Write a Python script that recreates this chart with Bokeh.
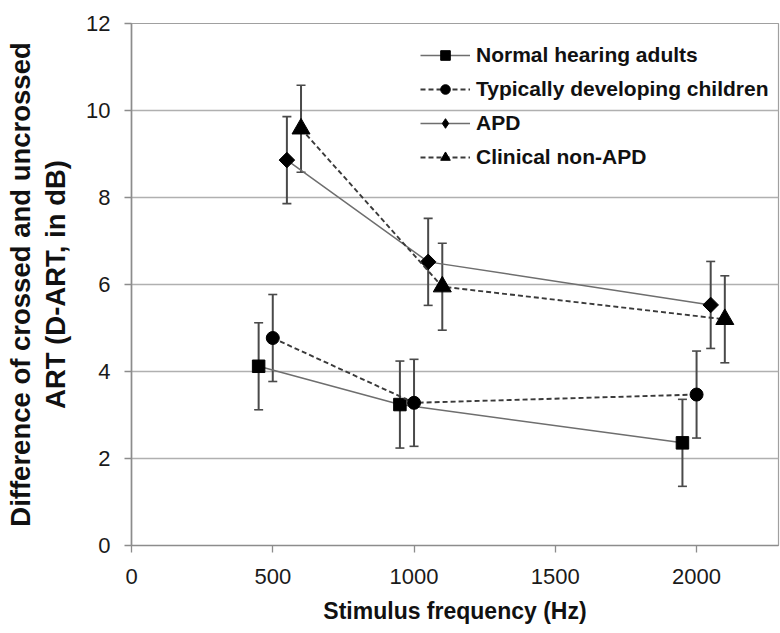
import math
from bokeh.plotting import figure
from bokeh.models import ColumnDataSource, Whisker, TeeHead, Legend, LegendItem, FixedTicker
from bokeh.embed import file_html
from bokeh.resources import INLINE

# ---- data ----
series_names = ["Normal hearing adults", "Typically developing children", "APD", "Clinical non-APD"]
adults_x = [450, 950, 1950]
adults_y = [4.12, 3.24, 2.36]
adults_err = [1.0, 1.0, 1.0]
children_x = [500, 1000, 2000]
children_y = [4.77, 3.28, 3.47]
children_err = [1.0, 1.0, 1.0]
apd_x = [550, 1050, 2050]
apd_y = [8.86, 6.52, 5.53]
apd_err = [1.0, 1.0, 1.0]
nonapd_x = [600, 1100, 2100]
nonapd_y = [9.58, 5.95, 5.20]
nonapd_err = [1.0, 1.0, 1.0]
x_ticks = [0, 500, 1000, 1500, 2000]
y_ticks = [0, 2, 4, 6, 8, 10, 12]

FONT = "Liberation Sans"

p = figure(width=780, height=633, output_backend="svg", toolbar_location=None,
           x_range=(0, 2290), y_range=(0, 12),
           min_border_left=131, min_border_top=23, min_border_right=2, min_border_bottom=88)
p.background_fill_color = "white"
p.outline_line_color = "#a0a0a0"
p.outline_line_width = 1.2

p.xgrid.grid_line_color = None
p.ygrid.grid_line_color = "#b0b0b0"
p.ygrid.grid_line_width = 1.6
p.xaxis.ticker = FixedTicker(ticks=x_ticks)
p.yaxis.ticker = FixedTicker(ticks=y_ticks)
for ax in (p.xaxis[0], p.yaxis[0]):
    ax.axis_line_color = "#8c8c8c"
    ax.axis_line_width = 1.6
    ax.major_tick_line_color = "#8c8c8c"
    ax.major_tick_line_width = 1.3
    ax.major_tick_out = 7
    ax.major_tick_in = 0
    ax.minor_tick_line_color = None
    ax.major_label_text_font = FONT
    ax.major_label_text_font_size = "22px"
    ax.major_label_text_color = "#1a1a1a"
    ax.axis_label_text_font = FONT
    ax.axis_label_text_font_style = "bold"
    ax.axis_label_text_color = "#111111"

p.xaxis.axis_label = "Stimulus frequency (Hz)"
p.xaxis.axis_label_text_font_size = "23px"
p.xaxis.major_label_standoff = 16
p.xaxis.axis_label_standoff = 11
p.yaxis.axis_label = "Difference of crossed and uncrossed\nART (D-ART, in dB)"
p.yaxis.axis_label_text_font_size = "27.5px"
p.yaxis.axis_label_text_line_height = 1.12
p.yaxis.major_label_standoff = 14
p.yaxis.axis_label_standoff = 12

# marker, size, angle, dash, line colour, line width, legend marker, legend marker size
specs = [
    (adults_x, adults_y, adults_err, "square", 12.5, 0.0, "solid", "#6e6e6e", 1.5, "square", 9),
    (children_x, children_y, children_err, "circle", 13, 0.0, "5 3", "#3a3a3a", 1.9, "circle", 10),
    (apd_x, apd_y, apd_err, "square", 11, math.pi / 4, "solid", "#6e6e6e", 1.5, "diamond", 11),
    (nonapd_x, nonapd_y, nonapd_err, "triangle", 18, 0.0, "5 3", "#3a3a3a", 1.9, "triangle", 11),
]

# error bars first
for xs, ys, es, *_ in specs:
    src = ColumnDataSource(dict(x=xs, lo=[y - e for y, e in zip(ys, es)], hi=[y + e for y, e in zip(ys, es)]))
    w = Whisker(base="x", lower="lo", upper="hi", source=src, dimension="height",
                line_color="#4a4a4a", line_width=2.0,
                lower_head=TeeHead(size=9, line_color="#4a4a4a", line_width=1.6),
                upper_head=TeeHead(size=9, line_color="#4a4a4a", line_width=1.6))
    p.add_layout(w)

items = []
for (xs, ys, es, marker, size, ang, dash, lcol, lw, lmarker, lsize), name in zip(specs, series_names):
    src = ColumnDataSource(dict(x=xs, y=ys))
    ln = p.line("x", "y", source=src, line_color=lcol, line_width=lw, line_dash=dash)
    p.scatter("x", "y", source=src, marker=marker, size=size, angle=ang,
              fill_color="black", line_color="black")
    small = p.scatter("x", "y", source=src, marker=lmarker, size=lsize,
                      fill_color="black", line_color="black", visible=False)
    items.append(LegendItem(label=name, renderers=[ln, small]))

legend = Legend(items=items, location=(289, 376), padding=0, margin=0, spacing=10,
                glyph_width=50, glyph_height=24, label_height=24, label_standoff=6,
                label_text_font=FONT, label_text_font_size="21px", label_text_font_style="bold",
                label_text_color="#111111",
                background_fill_alpha=0, border_line_alpha=0)
p.add_layout(legend)

open("out.html", "w").write(file_html(p, INLINE))
